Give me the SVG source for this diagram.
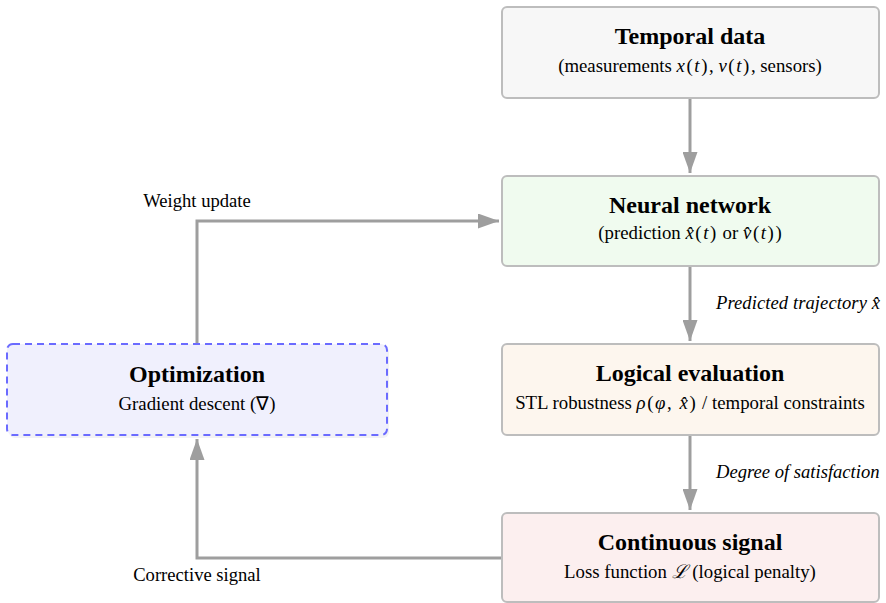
<svg xmlns="http://www.w3.org/2000/svg" width="886" height="603" viewBox="0 0 886 603">
  <defs>
    <marker id="arrow" viewBox="0 0 21 15" refX="21" refY="7.5" markerWidth="21" markerHeight="15" markerUnits="userSpaceOnUse" orient="auto">
      <path d="M0,0 L21,7.5 L0,15 Z" fill="#9e9e9e"/>
    </marker>
  </defs>
  <style>
    .box { stroke: #bdbdbd; stroke-width: 2; }
    .opt { fill: #f0f0fd; stroke: #6b6bff; stroke-width: 2; stroke-dasharray: 7 5; }
    .title { font-family: "Liberation Serif", "Times New Roman", serif; font-weight: bold; font-size: 24px; fill: #000; text-anchor: middle; }
    .sub { font-family: "Liberation Serif", "Times New Roman", serif; font-size: 18.8px; fill: #000; text-anchor: middle; }
    .mg { letter-spacing: 1.6px; }
    .m { font-style: italic; }
    .lbl { font-family: "Liberation Serif", "Times New Roman", serif; font-size: 18.6px; fill: #000; }
    .edge { fill: none; stroke: #9e9e9e; stroke-width: 3; }
  </style>
  <rect width="886" height="603" fill="#ffffff"/>

  <!-- connectors -->
  <g id="connectors">
    <path class="edge" d="M690,98 L690,173" marker-end="url(#arrow)"/>
    <path class="edge" d="M690,266 L690,341" marker-end="url(#arrow)"/>
    <path class="edge" d="M690,435 L690,510" marker-end="url(#arrow)"/>
    <path class="edge" d="M502,558 L197,558 L197,439" marker-end="url(#arrow)"/>
    <path class="edge" d="M197,343 L197,221 L499,221" marker-end="url(#arrow)"/>
    <text class="lbl" x="197" y="207" text-anchor="middle">Weight update</text>
    <text class="lbl" x="197" y="581" text-anchor="middle">Corrective signal</text>
    <text class="lbl" x="716" y="309" font-style="italic" textLength="164" lengthAdjust="spacing">Predicted trajectory <tspan>x̂</tspan></text>
    <text class="lbl" x="716" y="478" font-style="italic">Degree of satisfaction</text>
  </g>

  <g id="temporal-data">
    <rect class="box" x="502" y="7" width="377" height="91" rx="5" fill="#f7f7f7"/>
    <text class="title" x="690" y="44">Temporal data</text>
    <text class="sub" x="690" y="72">(measurements <tspan class="mg"><tspan class="m">x</tspan>(<tspan class="m">t</tspan>)</tspan>, <tspan class="mg"><tspan class="m">v</tspan>(<tspan class="m">t</tspan>)</tspan>, sensors)</text>
  </g>

  <g id="neural-network">
    <rect class="box" x="502" y="176" width="377" height="90" rx="5" fill="#f0fbef"/>
    <text class="title" x="690" y="213">Neural network</text>
    <text class="sub" x="690" y="239">(prediction <tspan class="mg"><tspan class="m">x̂</tspan>(<tspan class="m">t</tspan>)</tspan> or <tspan class="mg"><tspan class="m">v̂</tspan>(<tspan class="m">t</tspan>)</tspan>)</text>
  </g>

  <g id="logical-evaluation">
    <rect class="box" x="502" y="344" width="377" height="91" rx="5" fill="#fdf6ee"/>
    <text class="title" x="690" y="381">Logical evaluation</text>
    <text class="sub" x="690" y="409">STL robustness <tspan class="mg"><tspan class="m">ρ</tspan>(<tspan class="m">φ</tspan>,  <tspan class="m">x̂</tspan>)</tspan> / temporal constraints</text>
  </g>

  <g id="continuous-signal">
    <rect class="box" x="502" y="513" width="377" height="89" rx="5" fill="#fcefef"/>
    <text class="title" x="690" y="550">Continuous signal</text>
    <text class="sub" x="690" y="578">Loss function <tspan class="m">ℒ</tspan> (logical penalty)</text>
  </g>

  <g id="optimization">
    <rect x="9" y="346" width="380" height="92" rx="6" fill="#e8e8ee" opacity="0.6"/>
    <rect class="opt" x="7" y="344" width="380" height="91" rx="6"/>
    <text class="title" x="197" y="382">Optimization</text>
    <text class="sub" x="197" y="410">Gradient descent (∇)</text>
  </g>
</svg>
